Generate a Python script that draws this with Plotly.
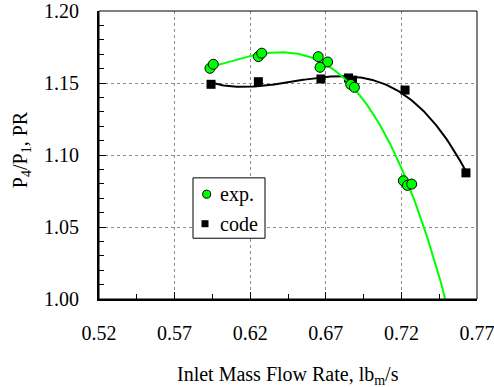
import numpy as np
import plotly.graph_objects as go

# Measured data: inlet mass flow rate (lbm/s) vs pressure ratio
exp_flow = [0.5934, 0.5956, 0.6254, 0.6276, 0.6650, 0.6712, 0.6662,
            0.6865, 0.6889, 0.7213, 0.7240, 0.7268]
exp_pr = [1.1602, 1.1630, 1.1683, 1.1707, 1.1683, 1.1646, 1.1609,
          1.1490, 1.1470, 1.0821, 1.0789, 1.0798]

# Code predictions
code_flow = [0.5941, 0.6254, 0.6668, 0.6850, 0.6877, 0.7224, 0.7627]
code_pr = [1.1491, 1.1509, 1.1528, 1.1535, 1.1520, 1.1451, 1.0876]

x_ticks = [0.52, 0.57, 0.62, 0.67, 0.72, 0.77]
y_ticks = [1.00, 1.05, 1.10, 1.15, 1.20]

FONT = "Times New Roman, Liberation Serif, serif"
GREEN = "#00ff00"

# Third-order polynomial trendlines through each series
exp_fit = np.polyfit(exp_flow, exp_pr, 3)
exp_x = np.linspace(min(exp_flow), 0.77, 250)
exp_y = np.polyval(exp_fit, exp_x)

code_fit = np.polyfit(code_flow, code_pr, 3)
code_x = np.linspace(min(code_flow), max(code_flow), 200)
code_y = np.polyval(code_fit, code_x)

fig = go.Figure()
fig.add_trace(go.Scatter(x=code_x, y=code_y, mode="lines",
                         line=dict(color="black", width=2), showlegend=False))
fig.add_trace(go.Scatter(x=code_flow, y=code_pr, mode="markers",
                         marker=dict(symbol="square", size=9, color="black"),
                         showlegend=False))
fig.add_trace(go.Scatter(x=exp_x, y=exp_y, mode="lines",
                         line=dict(color=GREEN, width=2), showlegend=False))
fig.add_trace(go.Scatter(x=exp_flow, y=exp_pr, mode="markers",
                         marker=dict(symbol="circle", size=10, color=GREEN,
                                     line=dict(color="black", width=1)),
                         showlegend=False))

axis_common = dict(
    showline=True, linecolor="black", linewidth=2,
    ticks="inside", ticklen=7, tickwidth=1, tickcolor="black",
    showgrid=True, gridcolor="#8a8a8a", gridwidth=1, griddash="3px,3px",
    zeroline=False, ticklabeloverflow="allow", automargin=False,
    tickfont=dict(family=FONT, size=20, color="black"),
)

fig.update_xaxes(range=[0.52 - 1e-6, 0.77 + 1e-6], tickvals=x_ticks,
                 ticktext=[f"{v:.2f}" for v in x_ticks],
                 minor=dict(dtick=0.025, tick0=0.52, ticks="inside", ticklen=5,
                            tickcolor="black", showgrid=False),
                 ticklabelstandoff=15, **axis_common)
fig.update_yaxes(range=[1.00 - 1e-6, 1.20 + 1e-6], tickvals=y_ticks,
                 ticktext=[f"{v:.2f}" for v in y_ticks],
                 minor=dict(dtick=0.01, tick0=1.0, ticks="inside", ticklen=5,
                            tickcolor="black", showgrid=False),
                 ticklabelstandoff=14, **axis_common)

shapes = [
    # thin frame around the plot area
    dict(type="rect", xref="paper", yref="paper", x0=0, y0=0, x1=1, y1=1,
         line=dict(color="black", width=1), layer="above"),
]

# Legend box placed in pixel-like paper units
W, H = 378.0, 287.7
def px(x):
    return (x - 99) / W
def py(y):
    return (298.7 - y) / H

shapes += [
    dict(type="rect", xref="paper", yref="paper",
         x0=px(193), x1=px(265), y0=py(238), y1=py(177.7),
         line=dict(color="black", width=1), fillcolor="white", layer="above"),
    dict(type="circle", xref="paper", yref="paper",
         x0=px(202.7), x1=px(210.7), y0=py(198), y1=py(190),
         line=dict(color="black", width=1), fillcolor=GREEN, layer="above"),
    dict(type="rect", xref="paper", yref="paper",
         x0=px(201.5), x1=px(208.5), y0=py(227), y1=py(220),
         line=dict(color="black", width=0), fillcolor="black", layer="above"),
]

annotations = [
    dict(text="exp.", xref="paper", yref="paper", x=px(218), y=py(194),
         xanchor="left", yanchor="middle", showarrow=False,
         font=dict(family=FONT, size=20, color="black")),
    dict(text="code", xref="paper", yref="paper", x=px(218), y=py(223.3),
         xanchor="left", yanchor="middle", showarrow=False,
         font=dict(family=FONT, size=20, color="black")),
    dict(text="Inlet Mass Flow Rate, lb<sub>m</sub>/s", xref="paper", yref="paper",
         x=0.5, y=py(375), xanchor="center", yanchor="middle", showarrow=False,
         font=dict(family=FONT, size=20, color="black")),
    dict(text="P<sub>4</sub>/P<sub>1</sub>, PR", xref="paper", yref="paper",
         x=px(21), y=py(150), xanchor="center", yanchor="middle", showarrow=False,
         textangle=-90, font=dict(family=FONT, size=20, color="black")),
]

fig.update_layout(
    width=494, height=387,
    margin=dict(l=99, r=17, t=11, b=88),
    paper_bgcolor="white", plot_bgcolor="white",
    font=dict(family=FONT, color="black"),
    shapes=shapes, annotations=annotations,
    showlegend=False,
)

fig.write_html("out.html")
